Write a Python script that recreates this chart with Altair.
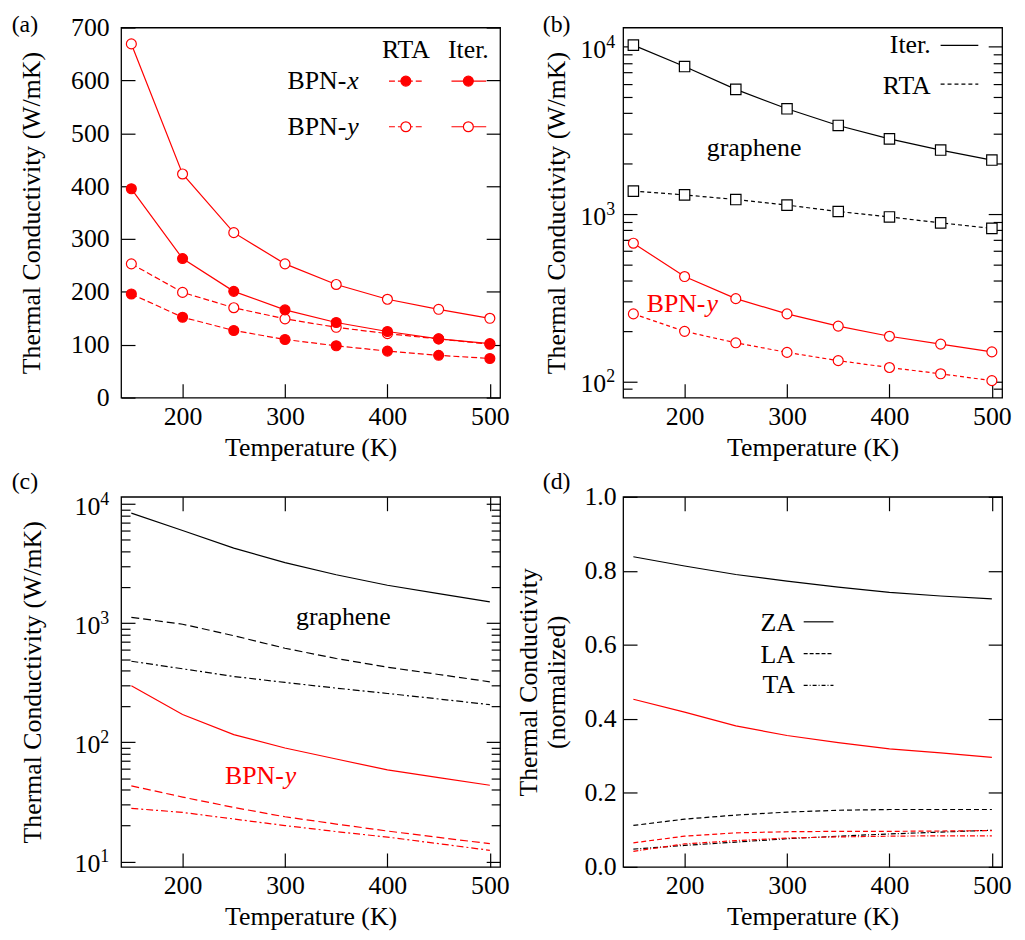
import altair as alt
import pandas as pd

# ---------------- data ----------------
T = [150, 200, 250, 300, 350, 400, 450, 500]

# (a) BPN, linear scale
a_bpnx_rta = [196, 152, 127, 110, 98, 88, 80, 74]
a_bpnx_iter = [395, 263, 201, 166, 142, 125, 111, 102]
a_bpny_rta = [253, 199, 170, 149, 133, 121, 111, 101]
a_bpny_iter = [669, 423, 312, 253, 214, 186, 167, 150]

# (b) graphene vs BPN-y, log scale
b_gr_iter = [10200, 7600, 5550, 4250, 3380, 2810, 2410, 2100]
b_gr_rta = [1370, 1300, 1220, 1130, 1035, 960, 885, 820]
b_bp_iter = a_bpny_iter
b_bp_rta = a_bpny_rta

# (c) branch contributions, log scale
c_gr_za = [8400, 6000, 4270, 3220, 2550, 2080, 1770, 1510]
c_gr_la = [1120, 980, 785, 616, 505, 427, 371, 322]
c_gr_ta = [479, 414, 357, 318, 285, 257, 231, 207]
c_bp_za = [298, 171, 116, 89.5, 72.4, 58.6, 50.6, 43.6]
c_bp_la = [43.1, 34.7, 28.4, 23.7, 20.6, 18.0, 15.9, 14.1]
c_bp_ta = [27.9, 25.8, 22.7, 20.0, 17.8, 16.0, 14.1, 12.4]

# (d) normalized branch contributions
d_gr_za = [0.838, 0.813, 0.790, 0.772, 0.756, 0.742, 0.732, 0.724]
d_gr_la = [0.112, 0.129, 0.140, 0.148, 0.153, 0.155, 0.155, 0.155]
d_gr_ta = [0.048, 0.058, 0.067, 0.076, 0.083, 0.089, 0.094, 0.099]
d_bp_za = [0.453, 0.418, 0.381, 0.355, 0.336, 0.319, 0.308, 0.296]
d_bp_la = [0.065, 0.083, 0.092, 0.095, 0.096, 0.096, 0.097, 0.098]
d_bp_ta = [0.042, 0.062, 0.071, 0.078, 0.081, 0.083, 0.084, 0.084]

x_ticks = [200, 300, 400, 500]
a_yticks = [0, 100, 200, 300, 400, 500, 600, 700]
d_yticks = [0.0, 0.2, 0.4, 0.6, 0.8, 1.0]
b_major = [100, 1000, 10000]
b_minor = [90] + [k * 100 for k in range(2, 10)] + [k * 1000 for k in range(2, 10)]
c_major = [10, 100, 1000, 10000]
c_minor = ([k * 10 for k in range(2, 10)] + [k * 100 for k in range(2, 10)]
           + [k * 1000 for k in range(2, 10)])

# ---------------- style ----------------
FONT = "Liberation Serif"
W, H = 382, 373
RED = "#ff0000"
BLACK = "#000000"
LW = 1.2
ONE = pd.DataFrame({"k": [0]})


def df(vals):
    return pd.DataFrame({"T": T, "v": vals})


def xs():
    return alt.Scale(domain=[140, 510], nice=False, zero=False)


def X(axis=None):
    return alt.X("T:Q", scale=xs(), axis=axis)


def Y(scale, axis=None):
    return alt.Y("v:Q", scale=scale, axis=axis)


def tick_ax(orient, offset, values, size):
    return alt.Axis(orient=orient, offset=offset, values=values, labels=False,
                    ticks=True, tickSize=size, tickWidth=LW, tickColor=BLACK,
                    domain=False, grid=False, title=None, minExtent=0)


def main_x():
    return alt.Axis(orient="bottom", values=x_ticks, ticks=False, domain=False,
                    grid=False, labelFlush=False, labelPadding=6,
                    title="Temperature (K)", titlePadding=5, minExtent=0)


def main_y(title, pad, values=None, labels=True, label_pad=12, fmt=None):
    kw = dict(orient="left", ticks=False, domain=False, grid=False,
              labels=labels, labelPadding=label_pad, title=title,
              titlePadding=pad, minExtent=0, labelFlush=False)
    if values is not None:
        kw["values"] = values
    if fmt:
        kw["format"] = fmt
    if isinstance(title, list):
        kw["titleLineHeight"] = 28
    return alt.Axis(**kw)


def line(vals, ys, color, dash=None, xaxis=None, yaxis=None):
    kw = dict(color=color, strokeWidth=LW)
    if dash:
        kw["strokeDash"] = dash
    return alt.Chart(df(vals)).mark_line(**kw).encode(x=X(xaxis), y=Y(ys, yaxis))


def pts(vals, ys, color, filled, shape="circle", size=100):
    return alt.Chart(df(vals)).mark_point(
        shape=shape, size=size, fill=color if filled else "white", stroke=color,
        strokeWidth=LW, opacity=1, fillOpacity=1).encode(x=X(), y=Y(ys))


def tick_layers(vals, ys, majors, minors, top):
    base = alt.Chart(df(vals)).mark_point(opacity=0)
    out = []
    for v, s in [(majors, 14), (minors, 9)]:
        if not v:
            continue
        for o in ["right", "left"]:
            out.append(base.encode(x=X(), y=Y(ys, tick_ax(o, -W, v, s))))
    for o in (["top", "bottom"] if top else ["top"]):
        out.append(base.encode(x=X(tick_ax(o, -H, x_ticks, 14)), y=Y(ys)))
    return out


def txt(s, x, y, size=26, align="left", color=BLACK, style="normal",
        baseline="alphabetic"):
    return alt.Chart(ONE).mark_text(
        text=s, font=FONT, fontSize=size, align=align, baseline=baseline,
        color=color, fontStyle=style).encode(x=alt.value(x), y=alt.value(y))


def seg(x1, x2, y, color, dash=None):
    kw = dict(color=color, strokeWidth=LW)
    if dash:
        kw["strokeDash"] = dash
    return alt.Chart(ONE).mark_rule(**kw).encode(
        x=alt.value(x1), x2=alt.value(x2), y=alt.value(y))


def dot(x, y, color, filled, shape="circle", size=100):
    return alt.Chart(ONE).mark_point(
        shape=shape, size=size, fill=color if filled else "white", stroke=color,
        strokeWidth=LW, opacity=1, fillOpacity=1).encode(x=alt.value(x), y=alt.value(y))


def sup_labels(vals, exps, ys, xr):
    d = pd.DataFrame({"v": vals, "e": exps})
    ten = alt.Chart(d).mark_text(text="10", font=FONT, fontSize=26, align="right",
                                 baseline="middle", dy=3, color=BLACK).encode(
        x=alt.value(xr), y=Y(ys))
    ex = alt.Chart(d).mark_text(font=FONT, fontSize=18, align="left",
                                baseline="middle", dy=-4, color=BLACK).encode(
        x=alt.value(xr), y=Y(ys), text="e:N")
    return [ten, ex]


def panel(layers):
    return alt.layer(*layers).resolve_axis(x="independent", y="independent") \
        .properties(width=W, height=H)


TTL = "Thermal Conductivity (W/mK)"

# ---------------- (a) ----------------
ya = alt.Scale(domain=[0, 700], nice=False, zero=False)
DA = [6, 3]
pa = panel(
    tick_layers(a_bpny_iter, ya, a_yticks, None, False) + [
        line(a_bpny_iter, ya, RED, None, main_x(), main_y(TTL, 26, a_yticks)),
        line(a_bpnx_iter, ya, RED),
        line(a_bpny_rta, ya, RED, DA),
        line(a_bpnx_rta, ya, RED, DA),
        pts(a_bpny_iter, ya, RED, False),
        pts(a_bpny_rta, ya, RED, False),
        pts(a_bpnx_iter, ya, RED, True),
        pts(a_bpnx_rta, ya, RED, True),
        txt("(a)", -97, -3, 24, "center", baseline="middle"),
        txt("RTA", 287, 31, 26, "center"),
        txt("Iter.", 350, 31, 26, "center"),
        txt("BPN-", 227, 62, 26, "right"),
        txt("x", 228, 62, 26, "left", style="italic"),
        txt("BPN-", 227, 108, 26, "right"),
        txt("y", 228, 108, 26, "left", style="italic"),
        seg(270, 305, 54, RED, DA), dot(287, 54, RED, True),
        seg(333, 368, 54, RED), dot(350, 54, RED, True),
        seg(270, 305, 100, RED, DA), dot(287, 100, RED, False),
        seg(333, 368, 100, RED), dot(350, 100, RED, False),
    ])

# ---------------- (b) ----------------
yb = alt.Scale(type="log", domain=[80, 13000], nice=False)
DB = [4, 3]
pb = panel(
    tick_layers(b_gr_iter, yb, b_major, b_minor, False) + [
        line(b_gr_iter, yb, BLACK, None, main_x(), main_y(TTL, 54, labels=False)),
        line(b_gr_rta, yb, BLACK, DB),
        line(b_bp_iter, yb, RED),
        line(b_bp_rta, yb, RED, DB),
        pts(b_gr_iter, yb, BLACK, False, "square", 110),
        pts(b_gr_rta, yb, BLACK, False, "square", 110),
        pts(b_bp_iter, yb, RED, False),
        pts(b_bp_rta, yb, RED, False),
    ] + sup_labels(b_major, ["2", "3", "4"], yb, -17) + [
        txt("(b)", -67, -3, 24, "center", baseline="middle"),
        txt("Iter.", 310, 26, 26, "right"),
        seg(320, 358, 18, BLACK),
        txt("RTA", 310, 67, 26, "right"),
        seg(320, 358, 57, BLACK, DB),
        txt("graphene", 132, 129, 26, "center"),
        txt("BPN-", 83, 287, 26, "right", RED),
        txt("y", 84, 287, 26, "left", RED, "italic"),
    ])

# ---------------- (c) ----------------
yc = alt.Scale(type="log", domain=[9, 11500], nice=False)
DL = [8, 4]
DT = [7, 3, 2, 3]
pc = panel(
    tick_layers(c_gr_za, yc, c_major, c_minor, True) + [
        line(c_gr_za, yc, BLACK, None, main_x(), main_y(TTL, 76, labels=False)),
        line(c_gr_la, yc, BLACK, DL),
        line(c_gr_ta, yc, BLACK, DT),
        line(c_bp_za, yc, RED),
        line(c_bp_la, yc, RED, DL),
        line(c_bp_ta, yc, RED, DT),
    ] + sup_labels(c_major, ["1", "2", "3", "4"], yc, -21) + [
        txt("(c)", -97, -15, 24, "center", baseline="middle"),
        txt("graphene", 224, 129, 26, "center"),
        txt("BPN-", 164, 289, 26, "right", RED),
        txt("y", 165, 289, 26, "left", RED, "italic"),
    ])

# ---------------- (d) ----------------
yd = alt.Scale(domain=[0, 1], nice=False, zero=False)
DL2 = [5, 3]
DT2 = [5, 2, 1, 2]
pd_ = panel(
    tick_layers(d_gr_za, yd, d_yticks, None, True) + [
        line(d_gr_za, yd, BLACK, None, main_x(),
             main_y(["Thermal Conductivity", "(normalized)"], 15, d_yticks,
                    label_pad=7, fmt=".1f")),
        line(d_gr_la, yd, BLACK, DL2),
        line(d_gr_ta, yd, BLACK, DT2),
        line(d_bp_za, yd, RED),
        line(d_bp_la, yd, RED, DL2),
        line(d_bp_ta, yd, RED, DT2),
        txt("(d)", -67, -15, 24, "center", baseline="middle"),
        txt("ZA", 173, 135, 26, "right"),
        txt("LA", 173, 167, 26, "right"),
        txt("TA", 173, 198, 26, "right"),
        seg(182, 212, 126, BLACK),
        seg(182, 212, 158, BLACK, [4, 2]),
        seg(182, 212, 190, BLACK, [4, 2, 1, 2]),
    ])

chart = alt.concat(pa, pb, pc, pd_, columns=2,
                   spacing={"row": 100, "column": 124}, bounds="flush") \
    .properties(padding={"left": 3, "top": 0, "right": 5, "bottom": 5}) \
    .configure_axis(labelFont=FONT, titleFont=FONT, labelFontSize=26,
                    titleFontSize=26, labelColor=BLACK, titleColor=BLACK,
                    titleFontWeight="normal", tickColor=BLACK, tickWidth=LW) \
    .configure_view(stroke=BLACK, strokeWidth=1.3)

chart.save("out.html", embed_options={"renderer": "svg", "actions": False})
